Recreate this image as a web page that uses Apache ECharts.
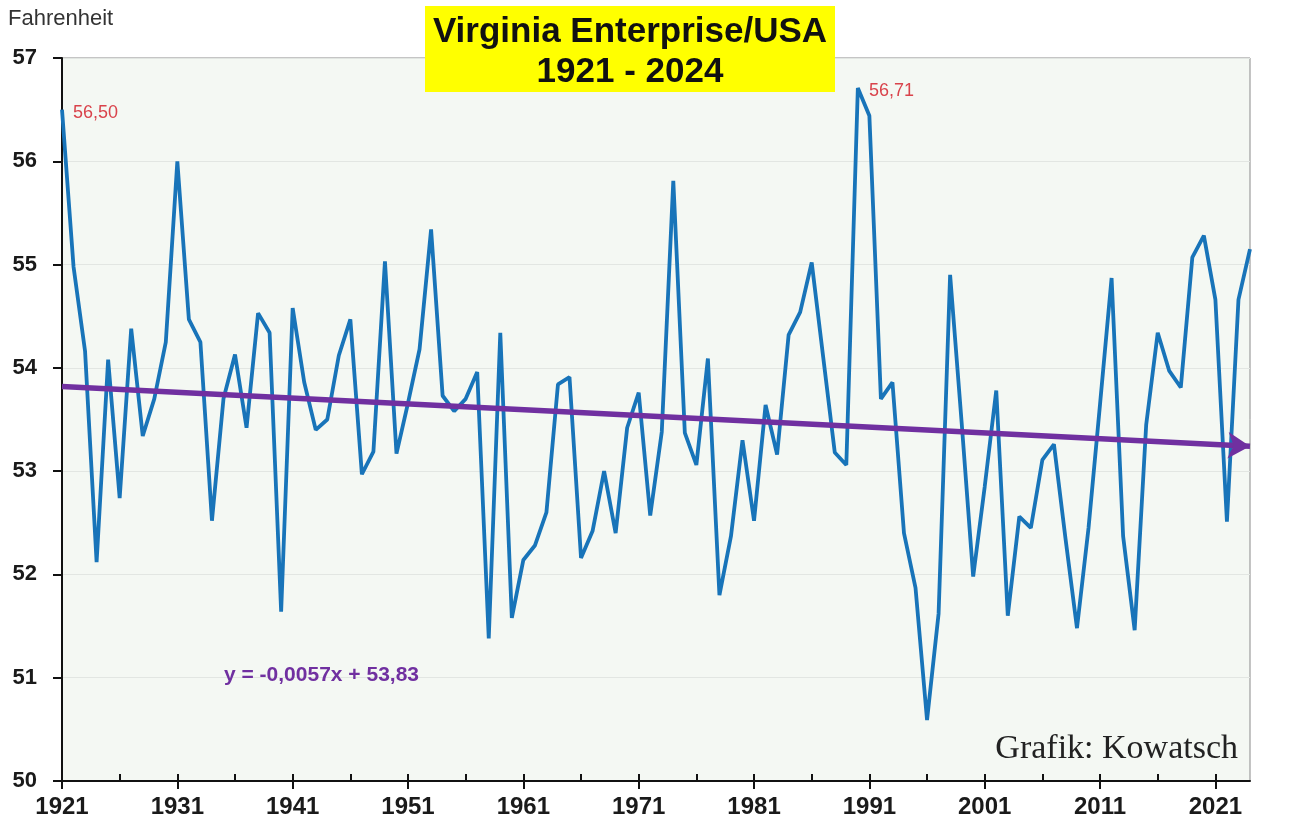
<!DOCTYPE html>
<html>
<head>
<meta charset="utf-8">
<script src="https://cdn.jsdelivr.net/npm/echarts@6/dist/echarts.min.js"></script>
<style>
  html, body { margin: 0; padding: 0; background: #fff; }
  #chart { width: 1290px; height: 834px; }
</style>
</head>
<body>
<div id="chart"></div>
<script>
// years 1921 - 2024
var years = []
for (var y = 1921; y <= 2024; y++) years.push(String(y))

// annual mean temperature, Fahrenheit
var temps = [
  56.50, 54.98, 54.16, 52.12, 54.08, 52.74, 54.38, 53.34, 53.70, 54.25,
  56.00, 54.47, 54.25, 52.52, 53.70, 54.13, 53.42, 54.53, 54.34, 51.64,
  54.58, 53.86, 53.40, 53.50, 54.12, 54.47, 52.97, 53.19, 55.03, 53.17,
  53.66, 54.18, 55.34, 53.73, 53.58, 53.70, 53.96, 51.38, 54.34, 51.58,
  52.14, 52.28, 52.60, 53.84, 53.91, 52.16, 52.42, 53.00, 52.40, 53.42,
  53.76, 52.57, 53.38, 55.81, 53.37, 53.06, 54.09, 51.80, 52.37, 53.30,
  52.52, 53.64, 53.16, 54.32, 54.54, 55.02, 54.10, 53.18, 53.06, 56.71,
  56.44, 53.70, 53.86, 52.40, 51.87, 50.59, 51.62, 54.90, 53.47, 51.98,
  52.85, 53.78, 51.60, 52.56, 52.45, 53.11, 53.26, 52.35, 51.48, 52.45,
  53.65, 54.87, 52.37, 51.46, 53.45, 54.34, 53.97, 53.81, 55.07, 55.28,
  54.66, 52.51, 54.66, 55.15
]

// linear trend endpoints (1921, 2024)
var trendYears = ['1921', '2024']
var trendValues = [53.82, 53.24]

// points carrying a value label
var labelledYears = ['1921', '1990']

var yTicks = [50, 51, 52, 53, 54, 55, 56, 57]

var fmt = function (v) {
  return v.toFixed(2).replace('.', ',')
}

var seriesData = temps.map(function (v, i) {
  var item = { value: v }
  if (labelledYears.indexOf(years[i]) >= 0) {
    item.label = {
      show: true,
      position: 'right',
      distance: 11,
      offset: [0, 3],
      formatter: fmt(v),
      color: '#d9434b',
      fontSize: 18,
      fontFamily: 'Liberation Sans, Arial, sans-serif'
    }
  }
  return item
})

var chart = echarts.init(document.getElementById('chart'))

var option = {
  animation: false,
  backgroundColor: '#ffffff',
  grid: {
    left: 62,
    right: 40,
    top: 58,
    bottom: 53,
    show: true,
    backgroundColor: '#f4f8f3',
    borderColor: '#8a8a8a',
    borderWidth: 1
  },
  xAxis: [
    {
      type: 'category',
      data: years,
      boundaryGap: false,
      axisLine: { lineStyle: { color: '#111', width: 2 } },
      axisTick: {
        inside: true,
        length: 7,
        interval: function (i) { return i % 5 === 0 },
        lineStyle: { color: '#111', width: 2 }
      },
      axisLabel: {
        interval: function (i) { return i % 10 === 0 },
        margin: 14,
        fontFamily: 'Liberation Sans, Arial, sans-serif',
        fontSize: 24,
        fontWeight: 'bold',
        color: '#1a1a1a'
      },
      splitLine: { show: false }
    },
    {
      type: 'category',
      data: years,
      boundaryGap: false,
      position: 'bottom',
      axisLine: { show: false },
      axisTick: {
        inside: false,
        length: 8,
        interval: function (i) { return i % 10 === 0 },
        lineStyle: { color: '#111', width: 2 }
      },
      axisLabel: { show: false },
      splitLine: { show: false }
    }
  ],
  yAxis: {
    type: 'value',
    min: yTicks[0],
    max: yTicks[yTicks.length - 1],
    interval: 1,
    axisLine: { show: true, lineStyle: { color: '#111', width: 2 } },
    axisTick: { show: true, inside: false, length: 9, lineStyle: { color: '#111', width: 2 } },
    axisLabel: {
      margin: 25,
      fontFamily: 'Liberation Sans, Arial, sans-serif',
      fontSize: 22,
      fontWeight: 'bold',
      color: '#1a1a1a'
    },
    splitLine: { show: true, lineStyle: { color: '#e2e6e2', width: 1 } }
  },
  series: [
    {
      name: 'Temperatur',
      type: 'line',
      data: seriesData,
      showSymbol: true,
      symbol: 'circle',
      symbolSize: 0.1,
      itemStyle: { color: '#1874b9' },
      lineStyle: { color: '#1874b9', width: 3.8 },
      z: 3,
      markLine: {
        silent: true,
        animation: false,
        symbol: ['none', 'arrow'],
        symbolSize: [20, 22],
        label: { show: false },
        lineStyle: { color: '#7030a0', width: 5.5, type: 'solid' },
        data: [[
          { coord: [trendYears[0], trendValues[0]] },
          { coord: [trendYears[1], trendValues[1]] }
        ]]
      }
    }
  ],
  graphic: [
    {
      type: 'rect',
      shape: { x: 425, y: 6, width: 410, height: 86 },
      style: { fill: '#ffff00' },
      z: 10
    },
    {
      type: 'text',
      x: 630,
      y: 52,
      z: 11,
      style: {
        text: 'Virginia Enterprise/USA\n1921 - 2024',
        textAlign: 'center',
        textVerticalAlign: 'middle',
        fontFamily: 'Liberation Sans, Arial, sans-serif',
        fontSize: 35,
        fontWeight: 'bold',
        lineHeight: 40,
        fill: '#111'
      }
    },
    {
      type: 'text',
      left: 8,
      top: 8,
      style: {
        text: 'Fahrenheit',
        fontFamily: 'Liberation Sans, Arial, sans-serif',
        fontSize: 22,
        fill: '#333'
      }
    },
    {
      type: 'text',
      left: 224,
      top: 665,
      z: 10,
      style: {
        text: 'y = -0,0057x + 53,83',
        fontFamily: 'Liberation Sans, Arial, sans-serif',
        fontSize: 21,
        fontWeight: 'bold',
        fill: '#7030a0'
      }
    },
    {
      type: 'text',
      right: 52,
      top: 732,
      style: {
        text: 'Grafik: Kowatsch',
        fontFamily: 'Liberation Serif, Times New Roman, serif',
        fontSize: 34,
        fill: '#222'
      }
    }
  ]
}

chart.setOption(option)
</script>
</body>
</html>
